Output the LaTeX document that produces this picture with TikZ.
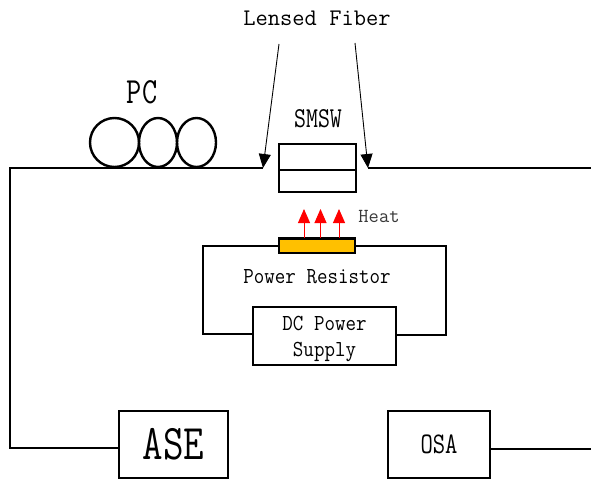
\documentclass[tikz,border=0pt]{standalone}
\usepackage{fontspec}
\usetikzlibrary{arrows.meta,shapes.geometric}
\newfontfamily\tallf[FakeStretch=0.8]{Latin Modern Mono}
\newfontfamily\midf[FakeStretch=0.89]{Latin Modern Mono}
\definecolor{resist}{RGB}{255,192,0}
\tikzset{
 x=1bp,y=-1bp,
 wire/.style={line width=2.4bp,line join=miter},
 boxn/.style={draw=black,line width=2.4bp,inner sep=0pt,outer sep=0pt,align=center},
 coil/.style={draw=black,line width=2.4bp,ellipse,inner sep=0pt,outer sep=0pt},
 lab/.style={font=\ttfamily\fontsize{23.9}{26}\selectfont,inner sep=0pt,text=black,align=center},
 midlab/.style={font=\midf\fontsize{23}{26.2}\selectfont,inner sep=0pt,text=black,align=center},
 tall/.style={font=\tallf\fontsize{#1}{#1}\selectfont,inner sep=0pt,text=black},
 blackarrow/.style={line width=0.9bp,-{Triangle[length=14bp,width=12bp]}},
 heatarrow/.style={red,line width=1bp,-{Triangle[length=14bp,width=12bp]}},
}
\begin{document}
\begin{tikzpicture}
\useasboundingbox (0,0) rectangle (591,483);
\fill[white] (0,0) rectangle (591,483);
% boxes
\node[boxn,minimum width=77bp,minimum height=48bp] (smsw) at (317.5,168) {};
\node[boxn,fill=resist,minimum width=76bp,minimum height=14.5bp] (res) at (317,245.8) {};
\node[boxn,midlab,draw=black,minimum width=143bp,minimum height=58bp] (dc) at (324.5,336) {\rule{0pt}{21bp}DC Power\\Supply};
\node[boxn,tall=50,draw=black,minimum width=109bp,minimum height=67bp] (ase) at (173.5,444.5) {ASE};
\node[boxn,tall=30,draw=black,minimum width=102bp,minimum height=67bp] (osa) at (439,444.5) {OSA};
% coils
\node[coil,minimum width=49bp,minimum height=49bp] (c1) at (114.5,142.5) {};
\node[coil,minimum width=38bp,minimum height=49bp] (c2) at (158,142.5) {};
\node[coil,minimum width=39bp,minimum height=49bp] (c3) at (196.5,142.5) {};
% labels
\node[lab] (lf) at (317,18) {Lensed Fiber};
\node[tall=37] (pc) at (142,92) {PC};
\node[tall=29] (sm) at (318,119) {SMSW};
\node[lab,font=\ttfamily\fontsize{20}{20}\selectfont,text=black!78] (heat) at (379,216) {Heat};
\node[midlab] (pr) at (317,277) {Power Resistor};
% coordinates
\coordinate (fl) at (263,168);
\coordinate (fr) at (368,168);
\coordinate (tl) at (279,44);
\coordinate (tr) at (355,43);
\coordinate (el) at (591,168);
\coordinate (er) at (591,449);
\coordinate (cl) at (10,168);
\coordinate (cb) at (10,448);
\coordinate (wl) at (203,245.8);
\coordinate (wr) at (446,245.8);
\coordinate (al) at (119,448);
\coordinate (ao) at (490,449);
\coordinate (dl) at (253,334);
\coordinate (dr) at (396,335);
\coordinate (h1) at (304,238);
\coordinate (h2) at (320.5,238);
\coordinate (h3) at (339,238);
\coordinate (t1) at (304,209);
\coordinate (t2) at (320.5,209);
\coordinate (t3) at (339,209);
\coordinate (ml) at (279,170);
\coordinate (mr) at (356,170);
% connectors
\draw[wire] (ml) -- (mr);
\draw[wire] (fl) -- (cl) -- (cb) -- (al);
\draw[wire] (fr) -- (el);
\draw[wire] (ao) -- (er);
\draw[wire] (res.west) -- (wl) -- (wl |- dl) -- (dl);
\draw[wire] (res.east) -- (wr) -- (wr |- dr) -- (dr);
\draw[blackarrow] (tl) -- (fl);
\draw[blackarrow] (tr) -- (fr);
\draw[heatarrow] (h1) -- (t1);
\draw[heatarrow] (h2) -- (t2);
\draw[heatarrow] (h3) -- (t3);
\end{tikzpicture}
\end{document}
